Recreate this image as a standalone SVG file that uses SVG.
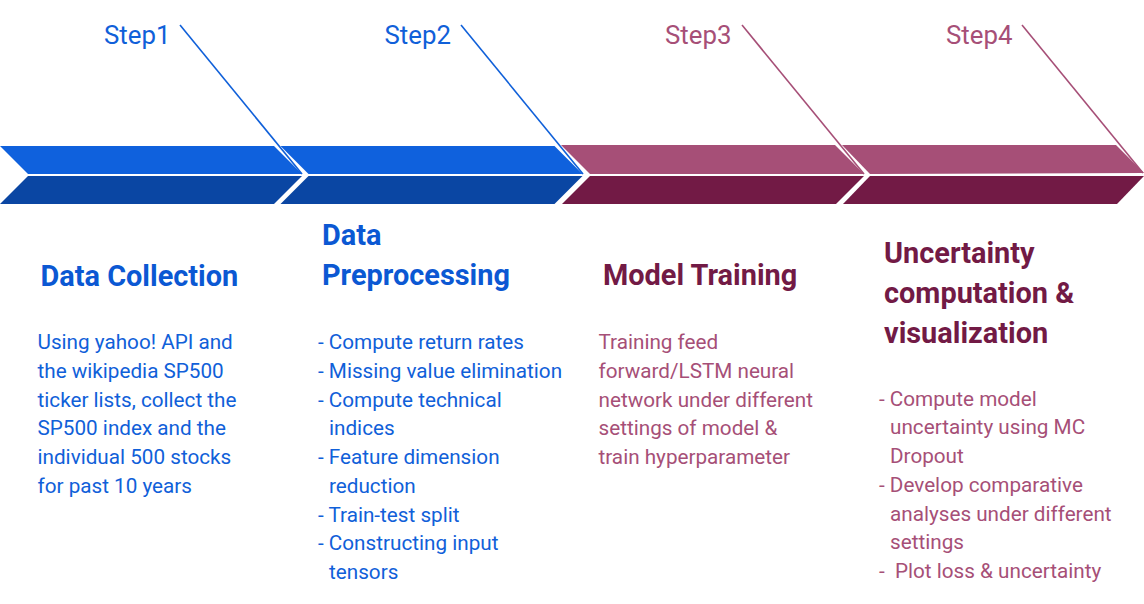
<svg xmlns="http://www.w3.org/2000/svg" width="1144" height="604" viewBox="0 0 1144 604">
<style>
  .txt { font-family: Roboto, "Liberation Sans", sans-serif; }
  .step { font-size: 25.8px; }
  .title { font-size: 28.9px; font-weight: bold; }
  .body { font-size: 20.7px; }
  .blue { fill: #1060D9; }
  .blueT { fill: #0B58D3; }
  .pink { fill: #A64F77; }
  .maroon { fill: #721A45; }
  .lt-blue { fill: #0F61DD; }
  .dk-blue { fill: #0A46A3; }
  .lt-pink { fill: #A64F77; }
  .dk-pink { fill: #721A45; }
  .lead { fill: none; stroke-width: 1.6; }
</style>
<rect width="1144" height="604" fill="#FFFFFF"/>

<g id="step1">
  <polygon class="lt-blue" points="0,146 274,146 302,174 28,174"/>
  <polygon class="dk-blue" points="28,176 302,176 274,204 0,204"/>
  <text class="txt step blue" x="104" y="44">Step1</text>
  <text class="txt title blueT" x="40.5" y="285.5">Data Collection</text>
  <text class="txt body blue" x="37.5">
    <tspan x="37.5" y="349.3">Using yahoo! API and</tspan>
    <tspan x="37.5" y="378">the wikipedia SP500</tspan>
    <tspan x="37.5" y="406.7">ticker lists, collect the</tspan>
    <tspan x="37.5" y="435.4">SP500 index and the</tspan>
    <tspan x="37.5" y="464.1">individual 500 stocks</tspan>
    <tspan x="37.5" y="492.8">for past 10 years</tspan>
  </text>
</g>

<g id="step2">
  <polygon class="lt-blue" points="280.5,146 554.5,146 582.5,174 308.5,174"/>
  <polygon class="dk-blue" points="308.5,176 582.5,176 554.5,204 280.5,204"/>
  <text class="txt step blue" x="384.5" y="44">Step2</text>
  <text class="txt title blueT">
    <tspan x="322" y="244.5">Data</tspan>
    <tspan x="322" y="285">Preprocessing</tspan>
  </text>
  <text class="txt body blue">
    <tspan x="318" y="349.3">- Compute return rates</tspan>
    <tspan x="318" y="378">- Missing value elimination</tspan>
    <tspan x="318" y="406.7">- Compute technical</tspan>
    <tspan x="329" y="435.4">indices</tspan>
    <tspan x="318" y="464.1">- Feature dimension</tspan>
    <tspan x="329" y="492.8">reduction</tspan>
    <tspan x="318" y="521.5">- Train-test split</tspan>
    <tspan x="318" y="550.2">- Constructing input</tspan>
    <tspan x="329" y="578.9">tensors</tspan>
  </text>
</g>

<g id="step3">
  <polygon class="lt-pink" points="561,145 835,145 864,174 590,174"/>
  <polygon class="dk-pink" points="590,176 864,176 836,204 562,204"/>
  <text class="txt step pink" x="665" y="44">Step3</text>
  <text class="txt title maroon" x="603" y="285">Model Training</text>
  <text class="txt body pink">
    <tspan x="598.5" y="349.3">Training feed</tspan>
    <tspan x="598.5" y="378">forward/LSTM neural</tspan>
    <tspan x="598.5" y="406.7">network under different</tspan>
    <tspan x="598.5" y="435.4">settings of model &amp;</tspan>
    <tspan x="598.5" y="464.1">train hyperparameter</tspan>
  </text>
</g>

<g id="step4">
  <polygon class="lt-pink" points="842,145 1116,145 1144,173 870,174"/>
  <polygon class="dk-pink" points="870,176 1144,176 1117,204 843,204"/>
  <text class="txt step pink" x="946" y="44">Step4</text>
  <text class="txt title maroon">
    <tspan x="884" y="263.3">Uncertainty</tspan>
    <tspan x="884" y="303.3">computation &amp;</tspan>
    <tspan x="884" y="343.3">visualization</tspan>
  </text>
  <text class="txt body pink" xml:space="preserve"><tspan x="879" y="405.7">- Compute model</tspan><tspan x="890" y="434.4">uncertainty using MC</tspan><tspan x="890" y="463.1">Dropout</tspan><tspan x="879" y="491.8">- Develop comparative</tspan><tspan x="890" y="520.5">analyses under different</tspan><tspan x="890" y="549.2">settings</tspan><tspan x="879" y="577.9">-  Plot loss &amp; uncertainty</tspan></text>
</g>

<g id="connectors">
  <line class="lead" stroke="#1060D9" x1="180" y1="25" x2="302" y2="174"/>
  <line class="lead" stroke="#1060D9" x1="461" y1="25" x2="583" y2="174"/>
  <line class="lead" stroke="#A64F77" x1="742" y1="25" x2="864" y2="174"/>
  <line class="lead" stroke="#A64F77" x1="1022" y1="25" x2="1143" y2="173"/>
</g>
</svg>
